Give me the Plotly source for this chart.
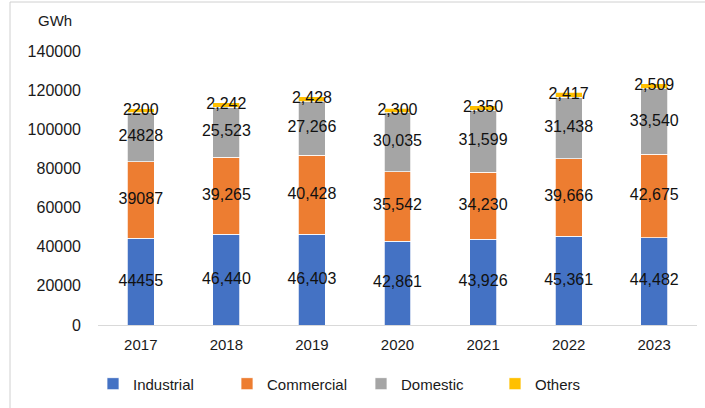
import plotly.graph_objects as go

years = ["2017", "2018", "2019", "2020", "2021", "2022", "2023"]
industrial = [44455, 46440, 46403, 42861, 43926, 45361, 44482]
commercial = [39087, 39265, 40428, 35542, 34230, 39666, 42675]
domestic = [24828, 25523, 27266, 30035, 31599, 31438, 33540]
others = [2200, 2242, 2428, 2300, 2350, 2417, 2509]

series_names = ["Industrial", "Commercial", "Domestic", "Others"]
series_vals = [industrial, commercial, domestic, others]
colors = ["#4472C4", "#ED7D31", "#A5A5A5", "#FFC000"]


def fmt(v, year):
    return str(v) if year == "2017" else f"{v:,}"


fig = go.Figure()
for name, vals, col in zip(series_names, series_vals, colors):
    fig.add_trace(go.Bar(
        x=years, y=vals, name=name,
        marker=dict(color=col, line=dict(color="white", width=0.75)),
        hoverinfo="x+y+name",
    ))

# data labels centred on each segment
base = [0] * len(years)
for vals in series_vals:
    mids = [b + v / 2 for b, v in zip(base, vals)]
    fig.add_trace(go.Scatter(
        x=years, y=mids, mode="text",
        text=[fmt(v, yr) for v, yr in zip(vals, years)],
        textposition="middle center",
        textfont=dict(family="Liberation Sans, Arial", size=16, color="#111111"),
        showlegend=False, hoverinfo="skip",
    ))
    base = [b + v for b, v in zip(base, vals)]

fig.update_layout(
    barmode="stack",
    bargap=0.685,
    width=705, height=408,
    margin=dict(l=98, r=8, t=51, b=83),
    paper_bgcolor="white", plot_bgcolor="white",
    font=dict(family="Liberation Sans, Arial", size=15, color="#1a1a1a"),
    showlegend=True,
    legend=dict(
        orientation="h", x=(93 - 98) / 599, xanchor="left",
        y=-0.215, yanchor="middle",
        font=dict(size=15, color="#1a1a1a"),
        entrywidth=89, entrywidthmode="pixels",
        traceorder="normal",
    ),
    xaxis=dict(
        showgrid=False, showline=True, linecolor="#d9d9d9", linewidth=1,
        ticks="", tickfont=dict(size=15), ticklabelstandoff=6,
    ),
    yaxis=dict(
        range=[0, 140000], tickvals=[0, 20000, 40000, 60000, 80000, 100000, 120000, 140000],
        tickformat="d", showgrid=False, showline=False, zeroline=False,
        tickfont=dict(size=16), ticks="", ticklabelstandoff=16,
    ),
    annotations=[dict(
        text="GWh", xref="paper", yref="paper",
        x=(55 - 98) / 599, y=(325 - 20) / 274, xanchor="center", yanchor="middle",
        showarrow=False, font=dict(size=15, color="#1a1a1a"),
    )],
    shapes=[dict(
        type="rect", xref="paper", yref="paper",
        x0=(10 - 98) / 599, x1=(720 - 98) / 599,
        y0=(325 - 420) / 274, y1=(325 - 2) / 274,
        line=dict(color="#d0d0d0", width=1), fillcolor="rgba(0,0,0,0)", layer="below",
    )],
)

fig.write_html("out.html")
